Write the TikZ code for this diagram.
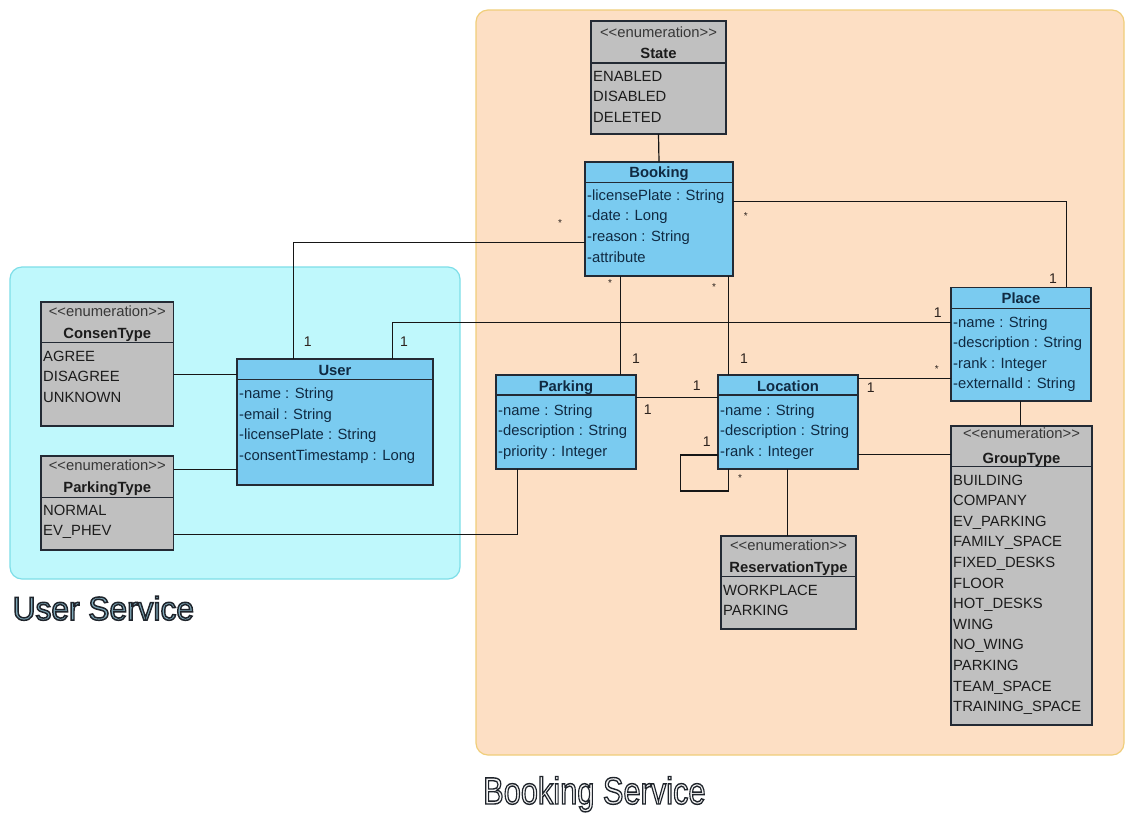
\documentclass[tikz,border=0pt]{standalone}
\usepackage{fontspec}
\setmainfont{Liberation Sans}
\usepackage{graphicx}

\definecolor{clsfill}{RGB}{122,203,240}
\definecolor{enmfill}{RGB}{192,192,192}
\definecolor{boxline}{RGB}{35,42,52}
\definecolor{clstext}{RGB}{16,42,66}
\definecolor{enmtext}{RGB}{28,28,28}
\definecolor{sttext}{RGB}{55,55,55}
\definecolor{linecol}{RGB}{22,22,22}
\definecolor{multcol}{RGB}{45,35,30}
\definecolor{userfill}{RGB}{191,248,252}
\definecolor{userdraw}{RGB}{125,222,232}
\definecolor{bookfill}{RGB}{253,223,196}
\definecolor{bookdraw}{RGB}{240,206,122}
\definecolor{usvcfill}{RGB}{128,170,186}
\definecolor{bsvcfill}{RGB}{244,244,244}

\newcommand\attrfont{\fontsize{14.8}{17}\selectfont}
\newcommand\stereo{<\kern0pt<enumeration>\kern0pt>}
% outlined lettering: fill in the node's text colour, stroked in a dark rim
\newcommand\outlined[2]{\special{pdf:literal direct 2 Tr #1 w 0.12 0.14 0.17 RG}#2\special{pdf:literal direct 0 Tr}}

% a class / enumeration box with its header separator
\newcommand\umlbox[7]{%
  \node[#1, minimum width={(#5-#3)*1pt}, minimum height={(#6-#4)*1pt}] (#2) at (#3,#4) {};
  \draw[sep] (#2.west |- 0,#7) -- (#2.east |- 0,#7);}
% attribute / literal rows: style, prefix, left x, first baseline, step, list
\newcommand\umlrows[6]{%
  \foreach \t [count=\i] in {#6}{\node[#1] (#2-\i) at (#3,{#4+#5*(\i-1)}) {\t};}}

\begin{document}
\begin{tikzpicture}[x=1pt,y=-1pt,
  box/.style={draw=boxline, line width=1.3pt, inner sep=0pt, outer sep=0pt, anchor=north west},
  cls/.style={box, fill=clsfill},
  enm/.style={box, fill=enmfill},
  sep/.style={draw=boxline, line width=1.1pt},
  clstitle/.style={anchor=base, inner sep=0pt, font=\attrfont\bfseries, text=clstext},
  enmtitle/.style={anchor=base, inner sep=0pt, font=\attrfont\bfseries, text=enmtext},
  sthead/.style={anchor=base, inner sep=0pt, font=\attrfont, text=sttext},
  clsrow/.style={anchor=base west, inner sep=0pt, font=\attrfont, text=clstext},
  enmrow/.style={anchor=base west, inner sep=0pt, font=\attrfont, text=enmtext},
  assoc/.style={draw=linecol, line width=1.2pt},
  mult/.style={inner sep=0pt, font=\fontsize{14}{16}\selectfont, text=multcol},
  star/.style={inner sep=0pt, font=\fontsize{10}{12}\selectfont, text=multcol},
  svc/.style={anchor=base west, inner sep=0pt},
]
\useasboundingbox (0,0) rectangle (1126,815);
\fill[white] (0,0) rectangle (1126,815);

% service packages
\draw[fill=userfill, draw=userdraw, line width=1.2pt, rounded corners=12pt] (10,267) rectangle (460,579);
\draw[fill=bookfill, draw=bookdraw, line width=1.2pt, rounded corners=12pt] (476,10) rectangle (1124,755);

% ---------- boxes ----------
\umlbox{enm}{state}{591}{21}{726}{134}{63}
\node[sthead] (state-st) at (658.5,37.3) {\stereo};
\node[enmtitle] (state-t) at (658.5,58.3) {State};
\umlrows{enmrow}{state-r}{593}{81}{20.5}{ENABLED,DISABLED,DELETED}

\umlbox{cls}{booking}{585}{162}{733}{276}{182.3}
\node[clstitle] (booking-t) at (659,177.8) {Booking};
\umlrows{clsrow}{booking-r}{587}{200.2}{20.6}{-licensePlate : String,-date : Long,-reason : String,-attribute}

\umlbox{cls}{place}{951}{287.3}{1091}{401}{308.3}
\node[clstitle] (place-t) at (1021,303.5) {Place};
\umlrows{clsrow}{place-r}{953}{327}{20.6}{-name : String,-description : String,-rank : Integer,-externalId : String}

\umlbox{cls}{parking}{496}{375}{636}{469}{395}
\node[clstitle] (parking-t) at (566,391) {Parking};
\umlrows{clsrow}{parking-r}{498}{415.2}{20.4}{-name : String,-description : String,-priority : Integer}

\umlbox{cls}{location}{718}{375}{858}{469}{395}
\node[clstitle] (location-t) at (788,391) {Location};
\umlrows{clsrow}{location-r}{720}{415.2}{20.4}{-name : String,-description : String,-rank : Integer}

\umlbox{cls}{user}{237}{359}{433}{485}{379.3}
\node[clstitle] (user-t) at (335,375) {User};
\umlrows{clsrow}{user-r}{239}{398.5}{20.6}{-name : String,-email : String,-licensePlate : String,-consentTimestamp : Long}

\umlbox{enm}{consent}{41}{302}{173.5}{426}{342.3}
\node[sthead] (consent-st) at (107.25,316.6) {\stereo};
\node[enmtitle] (consent-t) at (107.25,338.5) {ConsenType};
\umlrows{enmrow}{consent-r}{43}{361}{20.6}{AGREE,DISAGREE,UNKNOWN}

\umlbox{enm}{parktype}{41}{456}{173.5}{550}{497.3}
\node[sthead] (parktype-st) at (107.25,470.6) {\stereo};
\node[enmtitle] (parktype-t) at (107.25,492.5) {ParkingType};
\umlrows{enmrow}{parktype-r}{43}{515}{20.7}{NORMAL,EV\_PHEV}

\umlbox{enm}{restype}{721}{536}{856}{629}{576.7}
\node[sthead] (restype-st) at (788.5,550.6) {\stereo};
\node[enmtitle] (restype-t) at (788.5,572.5) {ReservationType};
\umlrows{enmrow}{restype-r}{723}{595}{20}{WORKPLACE,PARKING}

\umlbox{enm}{grouptype}{951}{426}{1092}{725}{466.7}
\node[sthead] (grouptype-st) at (1021.5,438.9) {\stereo};
\node[enmtitle] (grouptype-t) at (1021.5,463.5) {GroupType};
\umlrows{enmrow}{grouptype-r}{953}{485}{20.6}{BUILDING,COMPANY,EV\_PARKING,FAMILY\_SPACE,FIXED\_DESKS,FLOOR,HOT\_DESKS,WING,NO\_WING,PARKING,TEAM\_SPACE,TRAINING\_SPACE}

% ---------- connectors ----------
\draw[assoc] (booking.west |- 0,242.3) -| (user.north -| 293.3,0);
\draw[assoc] (user.north -| 392.7,0) |- (place.west |- 0,322.7);
\draw[assoc] (booking.south -| 620.4,0) -- (parking.north -| 620.4,0);
\draw[assoc] (booking.south -| 728.4,0) -- (location.north -| 728.4,0);
\draw[assoc] (booking.east |- 0,201.7) -| (place.north -| 1066.7,0);
\draw[assoc] (parking.east |- 0,397.3) -- (location.west |- 0,397.3);
\draw[assoc] (location.east |- 0,378.6) -- (place.west |- 0,378.6);
\draw[assoc] (location.west |- 0,455) -| (680.7,491) -| (location.south -| 728.3,0);
\draw[assoc] (location.east |- 0,454.4) -- (grouptype.west |- 0,454.4);
\draw[assoc] (place.south -| 1020.4,0) -- (grouptype.north -| 1020.4,0);
\draw[assoc] (location.south -| 787.3,0) -- (restype.north -| 787.3,0);
\draw[assoc] (consent.east |- 0,374.4) -- (user.west |- 0,374.4);
\draw[assoc] (parktype.east |- 0,469.3) -- (user.west |- 0,469.3);
\draw[assoc] (parking.south -| 517.7,0) |- (parktype.east |- 0,534.4);
\draw[assoc] (state.south) -- (booking.north);

% ---------- multiplicities ----------
\node[star] (m1) at (560,223) {*};
\node[mult] (m2) at (307.7,342) {1};
\node[mult] (m3) at (404,342) {1};
\node[mult] (m4) at (937.7,313) {1};
\node[star] (m5) at (610,283) {*};
\node[mult] (m6) at (636,359) {1};
\node[star] (m7) at (714,287) {*};
\node[mult] (m8) at (744,359) {1};
\node[star] (m9) at (745.7,215.7) {*};
\node[mult] (m10) at (1053,279) {1};
\node[mult] (m11) at (696.7,386) {1};
\node[mult] (m12) at (647.7,410) {1};
\node[star] (m13) at (936.7,369) {*};
\node[mult] (m14) at (870.7,388) {1};
\node[mult] (m15) at (706.7,441.7) {1};
\node[star] (m16) at (740,478) {*};

% ---------- service captions ----------
\node[svc, text=usvcfill, font=\fontsize{33}{36}\selectfont] (usvc) at (12.5,620) {\outlined{1.5}{\scalebox{0.96}[1]{User Service}}};
\node[svc, text=bsvcfill, font=\fontsize{38}{40}\selectfont] (bsvc) at (483,804) {\outlined{1.4}{\scalebox{0.81}[1]{Booking Service}}};
\end{tikzpicture}
\end{document}
